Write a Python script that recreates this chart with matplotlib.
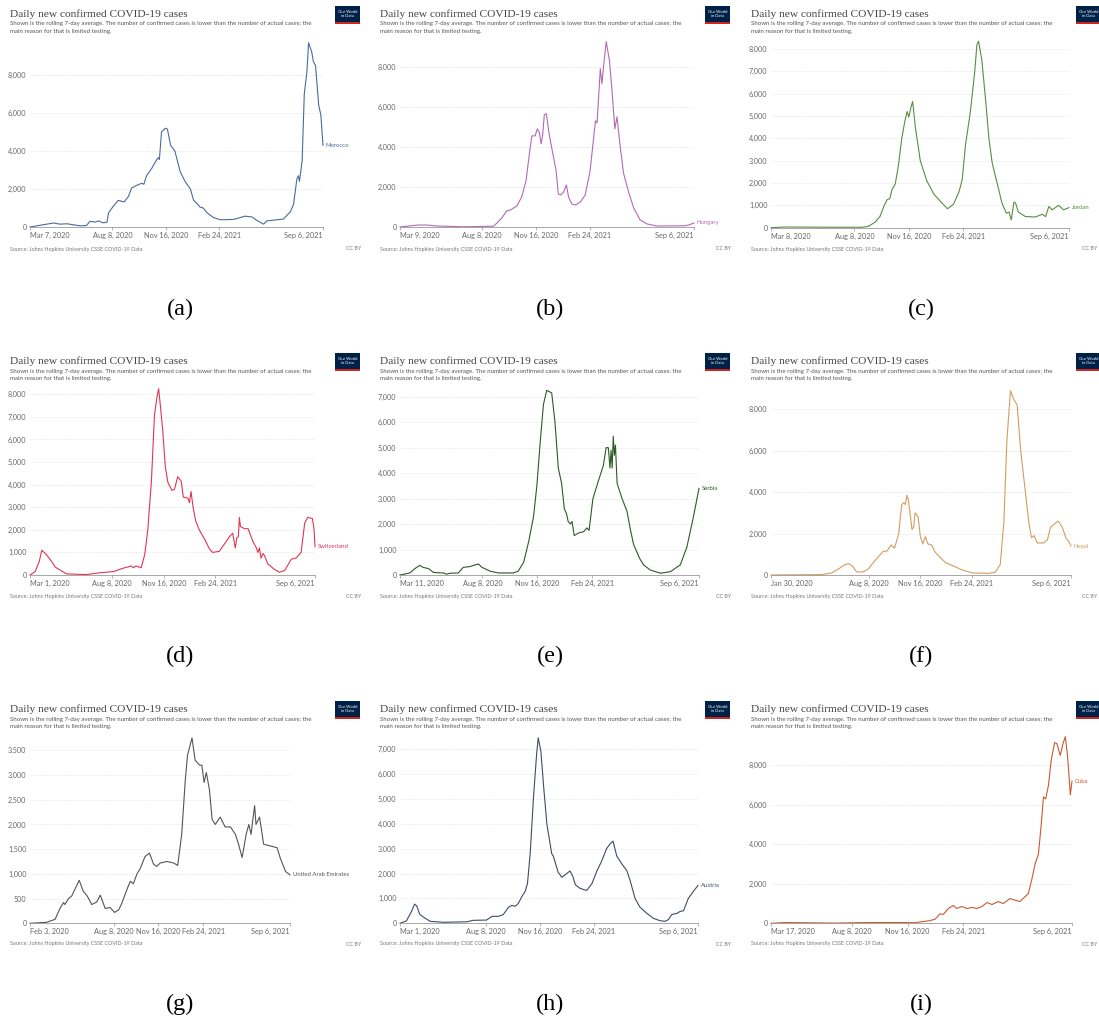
import matplotlib
matplotlib.use("Agg")
import matplotlib.pyplot as plt
from matplotlib.patches import Rectangle
import pandas as pd

W, H = 1099, 1021

title = "Daily new confirmed COVID-19 cases"
subtitle_1 = "Shown is the rolling 7-day average. The number of confirmed cases is lower than the number of actual cases; the"
subtitle_2 = "main reason for that is limited testing."
source = "Source: Johns Hopkins University CSSE COVID-19 Data"
mid_ticks = ["2020-08-08", "2020-11-16", "2021-02-24"]
end_date = "2021-09-06"

# ---- data ----
morocco_dates = ["2020-03-07", "2020-04-20", "2020-05-02", "2020-05-15", "2020-06-09", "2020-06-21",
                 "2020-06-27", "2020-07-07", "2020-07-13", "2020-07-22", "2020-07-29", "2020-08-01",
                 "2020-08-10", "2020-08-19", "2020-08-30", "2020-09-07", "2020-09-13", "2020-09-23",
                 "2020-10-02", "2020-10-06", "2020-10-11", "2020-10-21", "2020-10-29", "2020-11-02",
                 "2020-11-04", "2020-11-08", "2020-11-15", "2020-11-19", "2020-11-25", "2020-12-03",
                 "2020-12-13", "2020-12-22", "2021-01-01", "2021-01-07", "2021-01-13", "2021-01-19",
                 "2021-01-25", "2021-02-01", "2021-02-13", "2021-02-26", "2021-03-23", "2021-04-13",
                 "2021-04-26", "2021-05-05", "2021-05-18", "2021-05-24", "2021-06-24", "2021-07-07",
                 "2021-07-13", "2021-07-19", "2021-07-22", "2021-07-24", "2021-07-29", "2021-08-02",
                 "2021-08-07", "2021-08-10", "2021-08-16", "2021-08-19", "2021-08-23", "2021-08-29",
                 "2021-09-02", "2021-09-06"]
morocco_cases = [0, 210, 150, 170, 60, 80, 300, 260, 320, 220, 250, 750, 1100, 1400, 1320, 1600, 2050,
                 2200, 2300, 2250, 2700, 3100, 3500, 3650, 3550, 5000, 5200, 5150, 4300, 4000, 2900, 2400,
                 2000, 1400, 1250, 1050, 1000, 750, 500, 380, 400, 570, 530, 350, 150, 320, 420, 800, 1200,
                 2500, 2700, 2400, 3500, 7000, 8200, 9700, 9200, 8700, 8500, 6400, 5900, 4300]

hungary_dates = ["2020-03-09", "2020-04-12", "2020-04-28", "2020-05-16", "2020-07-05", "2020-08-30",
                 "2020-09-05", "2020-09-14", "2020-09-23", "2020-09-30", "2020-10-06", "2020-10-12",
                 "2020-10-21", "2020-10-29", "2020-11-05", "2020-11-09", "2020-11-15", "2020-11-19",
                 "2020-11-23", "2020-11-26", "2020-11-29", "2020-12-02", "2020-12-06", "2020-12-10",
                 "2020-12-14", "2020-12-19", "2020-12-24", "2020-12-28", "2021-01-02", "2021-01-07",
                 "2021-01-12", "2021-01-16", "2021-01-22", "2021-01-29", "2021-02-07", "2021-02-16",
                 "2021-02-25", "2021-03-07", "2021-03-10", "2021-03-16", "2021-03-19", "2021-03-22",
                 "2021-03-27", "2021-04-02", "2021-04-07", "2021-04-12", "2021-04-16", "2021-04-22",
                 "2021-04-28", "2021-05-08", "2021-05-17", "2021-05-29", "2021-06-11", "2021-06-29",
                 "2021-08-18", "2021-08-27", "2021-09-06"]
hungary_cases = [0, 100, 100, 50, 10, 40, 200, 450, 800, 850, 950, 1050, 1500, 2300, 3800, 4550, 4550,
                 4900, 4700, 4150, 4600, 5600, 5650, 4800, 4200, 3500, 2800, 1650, 1600, 1750, 2100, 1500,
                 1150, 1100, 1250, 1600, 2800, 5300, 5200, 7900, 7150, 8000, 9250, 8300, 6700, 4900, 5500,
                 4000, 2700, 1700, 950, 350, 150, 50, 60, 100, 200]

jordan_dates = ["2020-03-08", "2020-04-02", "2020-07-04", "2020-08-22", "2020-09-03", "2020-09-15",
                "2020-09-24", "2020-10-01", "2020-10-07", "2020-10-12", "2020-10-16", "2020-10-22",
                "2020-10-28", "2020-11-03", "2020-11-09", "2020-11-13", "2020-11-16", "2020-11-20",
                "2020-11-23", "2020-11-28", "2020-12-07", "2020-12-19", "2021-01-01", "2021-01-16",
                "2021-01-26", "2021-02-06", "2021-02-16", "2021-02-22", "2021-02-28", "2021-03-09",
                "2021-03-17", "2021-03-21", "2021-03-24", "2021-03-30", "2021-04-06", "2021-04-12",
                "2021-04-18", "2021-04-27", "2021-05-06", "2021-05-14", "2021-05-19", "2021-05-23",
                "2021-05-28", "2021-05-31", "2021-06-05", "2021-06-18", "2021-07-06", "2021-07-19",
                "2021-07-25", "2021-07-31", "2021-08-06", "2021-08-18", "2021-08-27", "2021-09-06"]
jordan_cases = [0, 30, 20, 20, 60, 250, 500, 950, 1250, 1300, 1700, 1950, 2800, 4000, 4800, 5200, 4950,
                5400, 5650, 4500, 3000, 2100, 1500, 1100, 850, 1050, 1600, 2150, 3700, 5200, 7000, 8200,
                8350, 7500, 5700, 4000, 2900, 2000, 1100, 650, 700, 350, 1150, 1100, 700, 500, 480, 600,
                500, 950, 800, 1000, 800, 900]

switzerland_dates = ["2020-03-01", "2020-03-11", "2020-03-19", "2020-03-24", "2020-04-02", "2020-04-12",
                     "2020-04-19", "2020-05-11", "2020-06-19", "2020-07-15", "2020-08-10", "2020-08-29",
                     "2020-09-14", "2020-09-18", "2020-09-23", "2020-10-03", "2020-10-10", "2020-10-16",
                     "2020-10-23", "2020-10-29", "2020-11-03", "2020-11-06", "2020-11-09", "2020-11-14",
                     "2020-11-19", "2020-11-24", "2020-12-02", "2020-12-07", "2020-12-13", "2020-12-20",
                     "2020-12-24", "2021-01-02", "2021-01-05", "2021-01-08", "2021-01-12", "2021-01-17",
                     "2021-01-24", "2021-02-03", "2021-02-13", "2021-02-19", "2021-03-04", "2021-03-24",
                     "2021-03-30", "2021-04-04", "2021-04-07", "2021-04-10", "2021-04-12", "2021-04-14",
                     "2021-04-22", "2021-04-29", "2021-05-08", "2021-05-15", "2021-05-18", "2021-05-21",
                     "2021-05-24", "2021-05-28", "2021-05-31", "2021-06-06", "2021-06-19", "2021-06-29",
                     "2021-07-09", "2021-07-22", "2021-07-31", "2021-08-10", "2021-08-17", "2021-08-23",
                     "2021-09-01", "2021-09-04", "2021-09-06"]
switzerland_cases = [0, 150, 600, 1100, 900, 600, 350, 50, 20, 100, 150, 300, 400, 320, 400, 320, 900,
                     2000, 4150, 7100, 7900, 8250, 7600, 6400, 4800, 4100, 3750, 3800, 4350, 4150, 3450,
                     3400, 3200, 3700, 3000, 2400, 2000, 1600, 1150, 1000, 1050, 1700, 1850, 1200, 1650,
                     1700, 2550, 2150, 2050, 2050, 1500, 1200, 1000, 1200, 750, 950, 850, 500, 250, 120,
                     200, 700, 750, 1000, 2300, 2550, 2500, 2050, 1250]

serbia_dates = ["2020-03-11", "2020-03-29", "2020-04-07", "2020-04-16", "2020-04-22", "2020-05-02",
                "2020-05-11", "2020-05-29", "2020-06-04", "2020-06-10", "2020-06-25", "2020-07-04",
                "2020-07-16", "2020-07-26", "2020-08-01", "2020-08-07", "2020-08-22", "2020-09-06",
                "2020-10-03", "2020-10-12", "2020-10-22", "2020-10-31", "2020-11-09", "2020-11-15",
                "2020-11-21", "2020-11-27", "2020-12-03", "2020-12-12", "2020-12-18", "2020-12-24",
                "2020-12-30", "2021-01-04", "2021-01-08", "2021-01-11", "2021-01-15", "2021-01-18",
                "2021-01-22", "2021-01-30", "2021-02-08", "2021-02-14", "2021-02-18", "2021-02-25",
                "2021-03-07", "2021-03-16", "2021-03-21", "2021-03-25", "2021-03-28", "2021-03-30",
                "2021-04-01", "2021-04-03", "2021-04-05", "2021-04-07", "2021-04-10", "2021-04-19",
                "2021-04-28", "2021-05-04", "2021-05-10", "2021-05-16", "2021-05-21", "2021-05-28",
                "2021-06-09", "2021-06-28", "2021-07-16", "2021-08-03", "2021-08-15", "2021-08-27",
                "2021-09-06"]
serbia_cases = [0, 80, 250, 380, 300, 250, 100, 80, 30, 70, 80, 300, 330, 400, 430, 300, 150, 80, 80,
                150, 500, 1300, 2300, 3500, 5200, 6700, 7250, 7150, 6000, 4200, 3600, 2600, 2400, 2100,
                2000, 2100, 1550, 1650, 1700, 1850, 1750, 3000, 3700, 4300, 5000, 5000, 4200, 4900, 4200,
                5450, 4700, 5100, 3600, 3000, 2500, 1800, 1200, 900, 650, 400, 200, 70, 130, 400, 1100,
                2300, 3400]

nepal_dates = ["2020-01-30", "2020-05-08", "2020-05-27", "2020-06-10", "2020-06-22", "2020-06-29",
               "2020-07-06", "2020-07-15", "2020-07-28", "2020-08-07", "2020-08-20", "2020-09-05",
               "2020-09-12", "2020-09-20", "2020-09-27", "2020-10-05", "2020-10-11", "2020-10-15",
               "2020-10-18", "2020-10-21", "2020-10-24", "2020-10-31", "2020-11-03", "2020-11-06",
               "2020-11-12", "2020-11-16", "2020-11-21", "2020-11-26", "2020-12-01", "2020-12-08",
               "2020-12-15", "2021-01-04", "2021-01-23", "2021-02-05", "2021-02-25", "2021-03-29",
               "2021-04-11", "2021-04-21", "2021-04-28", "2021-05-04", "2021-05-11", "2021-05-17",
               "2021-05-24", "2021-05-31", "2021-06-09", "2021-06-16", "2021-06-21", "2021-06-26",
               "2021-07-02", "2021-07-15", "2021-07-22", "2021-07-28", "2021-08-04", "2021-08-12",
               "2021-08-20", "2021-08-27", "2021-09-02", "2021-09-06"]
nepal_cases = [0, 20, 100, 300, 500, 550, 450, 150, 150, 300, 700, 1150, 1150, 1450, 1300, 2000, 3400,
               3500, 3400, 3850, 3600, 2200, 2300, 3000, 2800, 1900, 1500, 1850, 1500, 1450, 1100, 600,
               400, 250, 100, 80, 130, 500, 2500, 6500, 8900, 8500, 8200, 6000, 4000, 2500, 1800, 1900,
               1550, 1550, 1700, 2300, 2450, 2600, 2300, 1800, 1600, 1400]

uae_dates = ["2020-02-03", "2020-03-11", "2020-03-30", "2020-04-10", "2020-04-18", "2020-04-21",
             "2020-04-29", "2020-05-06", "2020-05-14", "2020-05-23", "2020-06-01", "2020-06-10",
             "2020-06-20", "2020-07-01", "2020-07-09", "2020-07-20", "2020-07-31", "2020-08-10",
             "2020-08-19", "2020-08-26", "2020-09-03", "2020-09-14", "2020-09-21", "2020-09-29",
             "2020-10-06", "2020-10-17", "2020-10-27", "2020-11-05", "2020-11-12", "2020-11-20",
             "2020-12-05", "2020-12-20", "2020-12-29", "2021-01-07", "2021-01-15", "2021-01-20",
             "2021-01-30", "2021-02-06", "2021-02-16", "2021-02-21", "2021-02-26", "2021-03-03",
             "2021-03-10", "2021-03-16", "2021-03-23", "2021-04-03", "2021-04-14", "2021-04-26",
             "2021-05-07", "2021-05-14", "2021-05-22", "2021-05-31", "2021-06-06", "2021-06-11",
             "2021-06-15", "2021-06-19", "2021-06-22", "2021-06-30", "2021-07-09", "2021-08-08",
             "2021-08-16", "2021-08-27", "2021-09-06"]
uae_cases = [0, 20, 80, 300, 420, 380, 500, 550, 700, 870, 650, 550, 380, 430, 570, 300, 320, 220, 270,
             400, 600, 850, 800, 1000, 1100, 1350, 1420, 1200, 1150, 1220, 1250, 1220, 1170, 1800, 2900,
             3400, 3750, 3300, 3200, 3200, 2850, 3050, 2700, 2100, 2000, 2150, 1950, 1950, 1800, 1600,
             1330, 1800, 2000, 1800, 2100, 2380, 2000, 2150, 1600, 1530, 1300, 1050, 980]

austria_dates = ["2020-03-01", "2020-03-13", "2020-03-23", "2020-03-28", "2020-04-01", "2020-04-07",
                 "2020-04-17", "2020-04-26", "2020-05-21", "2020-07-03", "2020-07-15", "2020-08-09",
                 "2020-08-19", "2020-08-31", "2020-09-09", "2020-09-19", "2020-09-25", "2020-10-01",
                 "2020-10-07", "2020-10-13", "2020-10-20", "2020-10-24", "2020-10-29", "2020-11-04",
                 "2020-11-10", "2020-11-13", "2020-11-18", "2020-11-23", "2020-11-29", "2020-12-08",
                 "2020-12-11", "2020-12-20", "2020-12-27", "2021-01-05", "2021-01-11", "2021-01-16",
                 "2021-01-21", "2021-01-30", "2021-02-11", "2021-02-21", "2021-03-02", "2021-03-11",
                 "2021-03-20", "2021-03-27", "2021-04-01", "2021-04-08", "2021-04-17", "2021-04-27",
                 "2021-05-03", "2021-05-12", "2021-05-21", "2021-06-03", "2021-06-15", "2021-06-28",
                 "2021-07-07", "2021-07-13", "2021-07-19", "2021-07-29", "2021-08-04", "2021-08-10",
                 "2021-08-19", "2021-08-29", "2021-09-06"]
austria_cases = [0, 100, 500, 770, 700, 350, 200, 80, 40, 60, 120, 130, 280, 280, 350, 650, 720, 680,
                 800, 1050, 1300, 1600, 2800, 5000, 6800, 7450, 6900, 5500, 4000, 2800, 2700, 2050, 1850,
                 2000, 2100, 1900, 1550, 1400, 1320, 1600, 2100, 2500, 3000, 3200, 3300, 2700, 2400, 2100,
                 1700, 1000, 650, 400, 200, 100, 80, 150, 350, 400, 480, 500, 1000, 1300, 1520]

cuba_dates = ["2020-03-17", "2020-04-11", "2020-05-11", "2020-07-09", "2020-09-07", "2020-11-06",
              "2020-11-29", "2020-12-11", "2020-12-23", "2021-01-04", "2021-01-13", "2021-01-19",
              "2021-01-28", "2021-02-06", "2021-02-12", "2021-02-21", "2021-03-02", "2021-03-11",
              "2021-03-20", "2021-03-29", "2021-04-07", "2021-04-16", "2021-04-27", "2021-05-06",
              "2021-05-18", "2021-05-24", "2021-06-05", "2021-06-14", "2021-06-20", "2021-06-26",
              "2021-07-02", "2021-07-08", "2021-07-13", "2021-07-17", "2021-07-21", "2021-07-26",
              "2021-07-31", "2021-08-06", "2021-08-10", "2021-08-16", "2021-08-21", "2021-08-25",
              "2021-08-29", "2021-09-03", "2021-09-06"]
cuba_cases = [0, 40, 30, 10, 40, 40, 30, 80, 120, 200, 480, 450, 750, 900, 750, 850, 750, 800, 750, 850,
              1050, 950, 1100, 1000, 1250, 1200, 1100, 1350, 1500, 2200, 3000, 3500, 5000, 6400, 6300,
              7000, 8300, 9150, 9100, 8500, 9100, 9450, 8500, 6500, 7200]

panels = [
    ("(a)", "Morocco", "2020-03-07", morocco_dates, morocco_cases, [0, 2000, 4000, 6000, 8000], "#4c6a9c"),
    ("(b)", "Hungary", "2020-03-09", hungary_dates, hungary_cases, [0, 2000, 4000, 6000, 8000], "#b36ab4"),
    ("(c)", "Jordan", "2020-03-08", jordan_dates, jordan_cases, list(range(0, 8001, 1000)), "#5b8c45"),
    ("(d)", "Switzerland", "2020-03-01", switzerland_dates, switzerland_cases, list(range(0, 8001, 1000)), "#e03553"),
    ("(e)", "Serbia", "2020-03-11", serbia_dates, serbia_cases, list(range(0, 7001, 1000)), "#2d5a27"),
    ("(f)", "Nepal", "2020-01-30", nepal_dates, nepal_cases, [0, 2000, 4000, 6000, 8000], "#d49d60"),
    ("(g)", "United Arab Emirates", "2020-02-03", uae_dates, uae_cases, list(range(0, 3501, 500)), "#555555"),
    ("(h)", "Austria", "2020-03-01", austria_dates, austria_cases, list(range(0, 7001, 1000)), "#3c4e66"),
    ("(i)", "Cuba", "2020-03-17", cuba_dates, cuba_cases, [0, 2000, 4000, 6000, 8000], "#c95a30"),
]

# pixel layout: panel origin, then axis box (left, right, zero line, top tick line) inside the panel
col_x = [0, 370, 741]
row_y = [0, 347, 695]
boxes = [(30, 323, 227, 75), (30, 324, 227, 66.7), (30, 328, 227.7, 49),
         (30, 315, 228, 47.3), (30, 329, 228, 49.7), (30, 330, 228, 62.3),
         (30, 290, 228.3, 55.3), (30, 328, 228.3, 54), (30, 331, 228.3, 70.3)]

sans = ["Lato", "DejaVu Sans"]
serif = ["Liberation Serif", "DejaVu Serif"]

fig = plt.figure(figsize=(W / 100, H / 100), dpi=100)


def fx(x):
    return x / W


def fy(y):
    return 1 - y / H


def label_date(d):
    return f"{d:%b} {d.day}, {d.year}"


for i, (letter, country, start, dates, cases, yticks, color) in enumerate(panels):
    ox, oy = col_x[i % 3], row_y[i // 3]
    xl, xr, y0, ytop = boxes[i]

    # header / footer texts
    fig.text(fx(ox + 10), fy(oy + 14), title, family=serif, fontsize=8.2, color="#444",
             va="center", ha="left")
    fig.text(fx(ox + 10), fy(oy + 24), subtitle_1, family=sans, fontsize=4.4, color="#555", va="center")
    fig.text(fx(ox + 10), fy(oy + 31.5), subtitle_2, family=sans, fontsize=4.4, color="#555", va="center")
    fig.text(fx(ox + 10), fy(oy + 249), source, family=sans, fontsize=3.85, color="#777", va="center")
    fig.text(fx(min(ox + 361, W - 2)), fy(oy + 249), "CC BY", family=sans, fontsize=3.85, color="#777",
             va="center", ha="right")
    fig.text(fx(ox + 180), fy(oy + 309), letter, family=serif, fontsize=17.5, color="black",
             ha="center", va="center")

    # logo
    fig.patches.append(Rectangle((fx(ox + 335), fy(oy + 22)), 25 / W, 16 / H, transform=fig.transFigure,
                                 facecolor="#002147", edgecolor="none"))
    fig.patches.append(Rectangle((fx(ox + 335), fy(oy + 24)), 25 / W, 2 / H, transform=fig.transFigure,
                                 facecolor="#ce261e", edgecolor="none"))
    fig.text(fx(ox + 347.5), fy(oy + 14), "Our World\nin Data", family=sans, fontsize=3.0,
             color="white", ha="center", va="center", linespacing=0.95)

    # chart
    ax = fig.add_axes([fx(ox + xl), fy(oy + y0), (xr - xl) / W, (y0 - ytop) / H])
    d = pd.to_datetime(dates)
    ax.plot(d, cases, color=color, lw=0.8, clip_on=False, solid_joinstyle="round")
    ax.annotate(country, xy=(d[-1], cases[-1]), xytext=(2, 0), textcoords="offset points",
                va="center", ha="left", fontsize=4.3, family=sans, color=color, annotation_clip=False)

    t0, t1 = pd.Timestamp(start), pd.Timestamp(end_date)
    ax.set_xlim(t0, t1)
    ax.set_ylim(0, yticks[-1])
    ax.set_yticks(yticks)
    ax.set_yticklabels([f"{v:,}" for v in yticks])
    ax.grid(axis="y", color="#d8d8d8", lw=0.5, ls=(0, (1, 1.5)))
    ax.set_axisbelow(True)

    xt = [t0] + [pd.Timestamp(m) for m in mid_ticks] + [t1]
    ax.set_xticks(xt)
    ax.set_xticklabels([label_date(t) for t in xt])
    labs = ax.get_xticklabels()
    labs[0].set_ha("left")
    labs[-1].set_ha("right")

    for s in ["top", "right", "left"]:
        ax.spines[s].set_visible(False)
    ax.spines["bottom"].set_color("#999")
    ax.spines["bottom"].set_linewidth(0.6)
    ax.tick_params(axis="y", length=0, pad=2.5, labelsize=5.1, labelcolor="#666")
    ax.tick_params(axis="x", length=2, width=0.5, color="#999", pad=1.5, labelsize=5.3, labelcolor="#666")
    for lab in ax.get_xticklabels() + ax.get_yticklabels():
        lab.set_family(sans)

fig.savefig("out.png", dpi=100, facecolor="white")
